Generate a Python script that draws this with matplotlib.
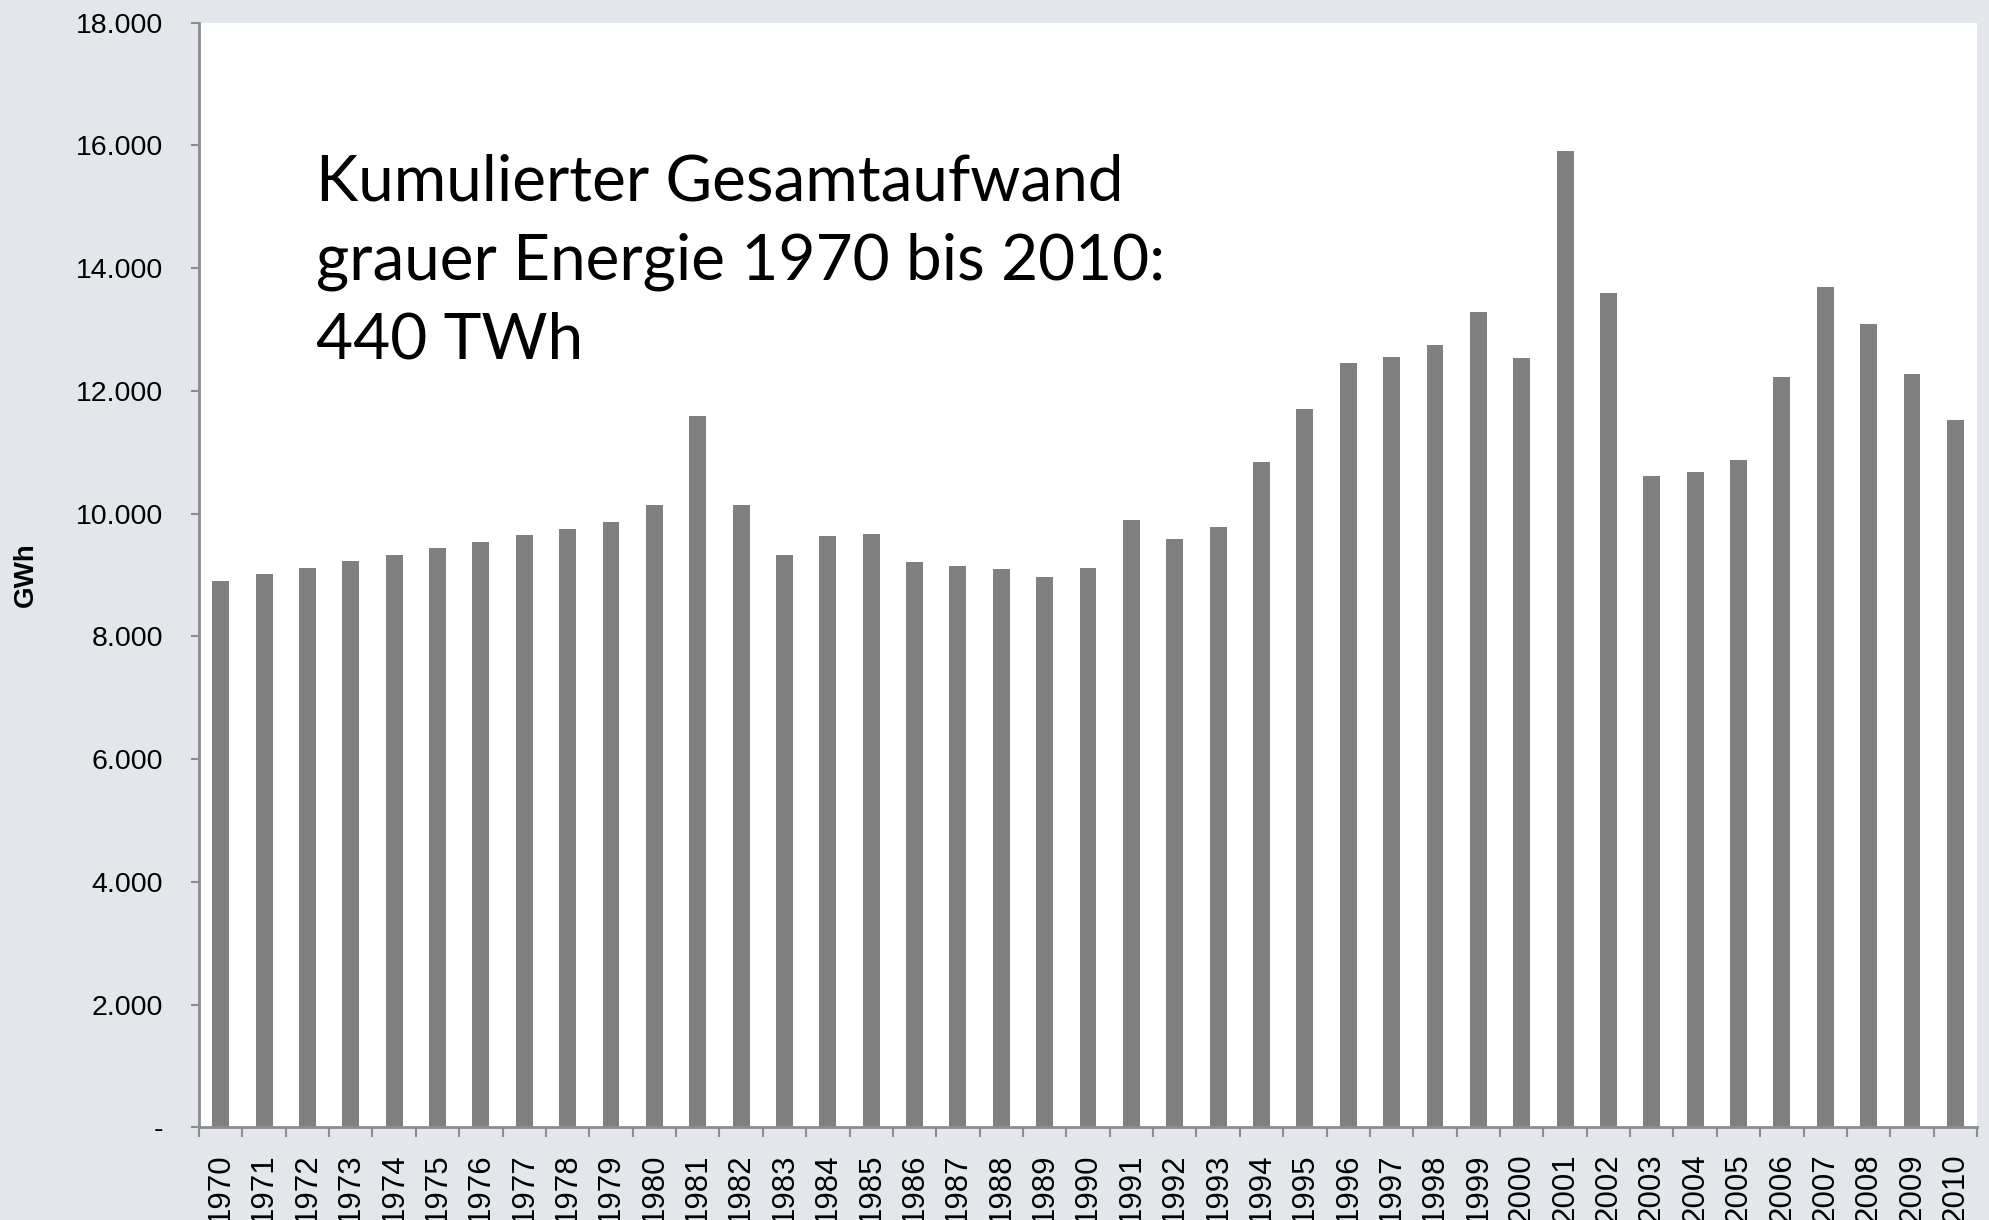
import matplotlib
matplotlib.use("Agg")
import matplotlib.pyplot as plt
import numpy as np

## data
years = [str(y) for y in range(1970, 2011)]
gwh = [8910, 9015, 9115, 9225, 9325, 9435, 9540, 9645, 9750, 9860,
       10135, 11590, 10135, 9330, 9630, 9675, 9215, 9140, 9100, 8975,
       9110, 9890, 9585, 9775, 10840, 11700, 12455, 12550, 12740, 13290,
       12540, 15910, 13590, 10615, 10675, 10870, 12225, 13695, 13085, 12270,
       11520]
yticks = [0, 2000, 4000, 6000, 8000, 10000, 12000, 14000, 16000, 18000]
ytick_labels = ["-", "2.000", "4.000", "6.000", "8.000", "10.000",
                "12.000", "14.000", "16.000", "18.000"]
note = "Kumulierter Gesamtaufwand\ngrauer Energie 1970 bis 2010:\n440 TWh"

bg = "#e3e6ea"
axis_col = "#8c8c8c"

plt.rcParams["font.family"] = ["Liberation Sans", "DejaVu Sans"]

fig = plt.figure(figsize=(19.9, 12.2), dpi=100, facecolor=bg)
ax = fig.add_axes([0.1, 0.076, 0.8935, 0.9054])
ax.set_facecolor("white")

x = np.arange(len(years))
ax.bar(x, gwh, width=0.39, color="#808080", zorder=2)

ax.set_xlim(-0.5, len(years) - 0.5)
ax.set_ylim(0, 18000)

## y axis
ax.set_yticks(yticks)
ax.set_yticklabels(ytick_labels)
ax.tick_params(axis="y", length=6, width=1.5, color=axis_col, pad=20,
               labelsize=20.5, labelcolor="black")
fig.text(0.013, 0.529, "GWh", rotation=90, fontsize=20, fontweight="bold",
         ha="center", va="center")

## x axis: ticks between categories
ax.set_xticks(x)
ax.set_xticklabels(years, rotation=90, va="top")
ax.set_xticks(np.arange(-0.5, len(years)), minor=True)
ax.tick_params(axis="x", which="major", length=0, pad=19, labelsize=22.5)
ax.tick_params(axis="x", which="minor", length=7, width=1.5, color=axis_col)

for s in ["top", "right"]:
    ax.spines[s].set_visible(False)
for s in ["left", "bottom"]:
    ax.spines[s].set_color(axis_col)
    ax.spines[s].set_linewidth(2)

ax.text(0.066, 0.882, note, transform=ax.transAxes, fontsize=46,
        family=["Lato", "DejaVu Sans"], va="top", ha="left", linespacing=1.45)

plt.savefig("out.png", dpi=100, facecolor=bg)
